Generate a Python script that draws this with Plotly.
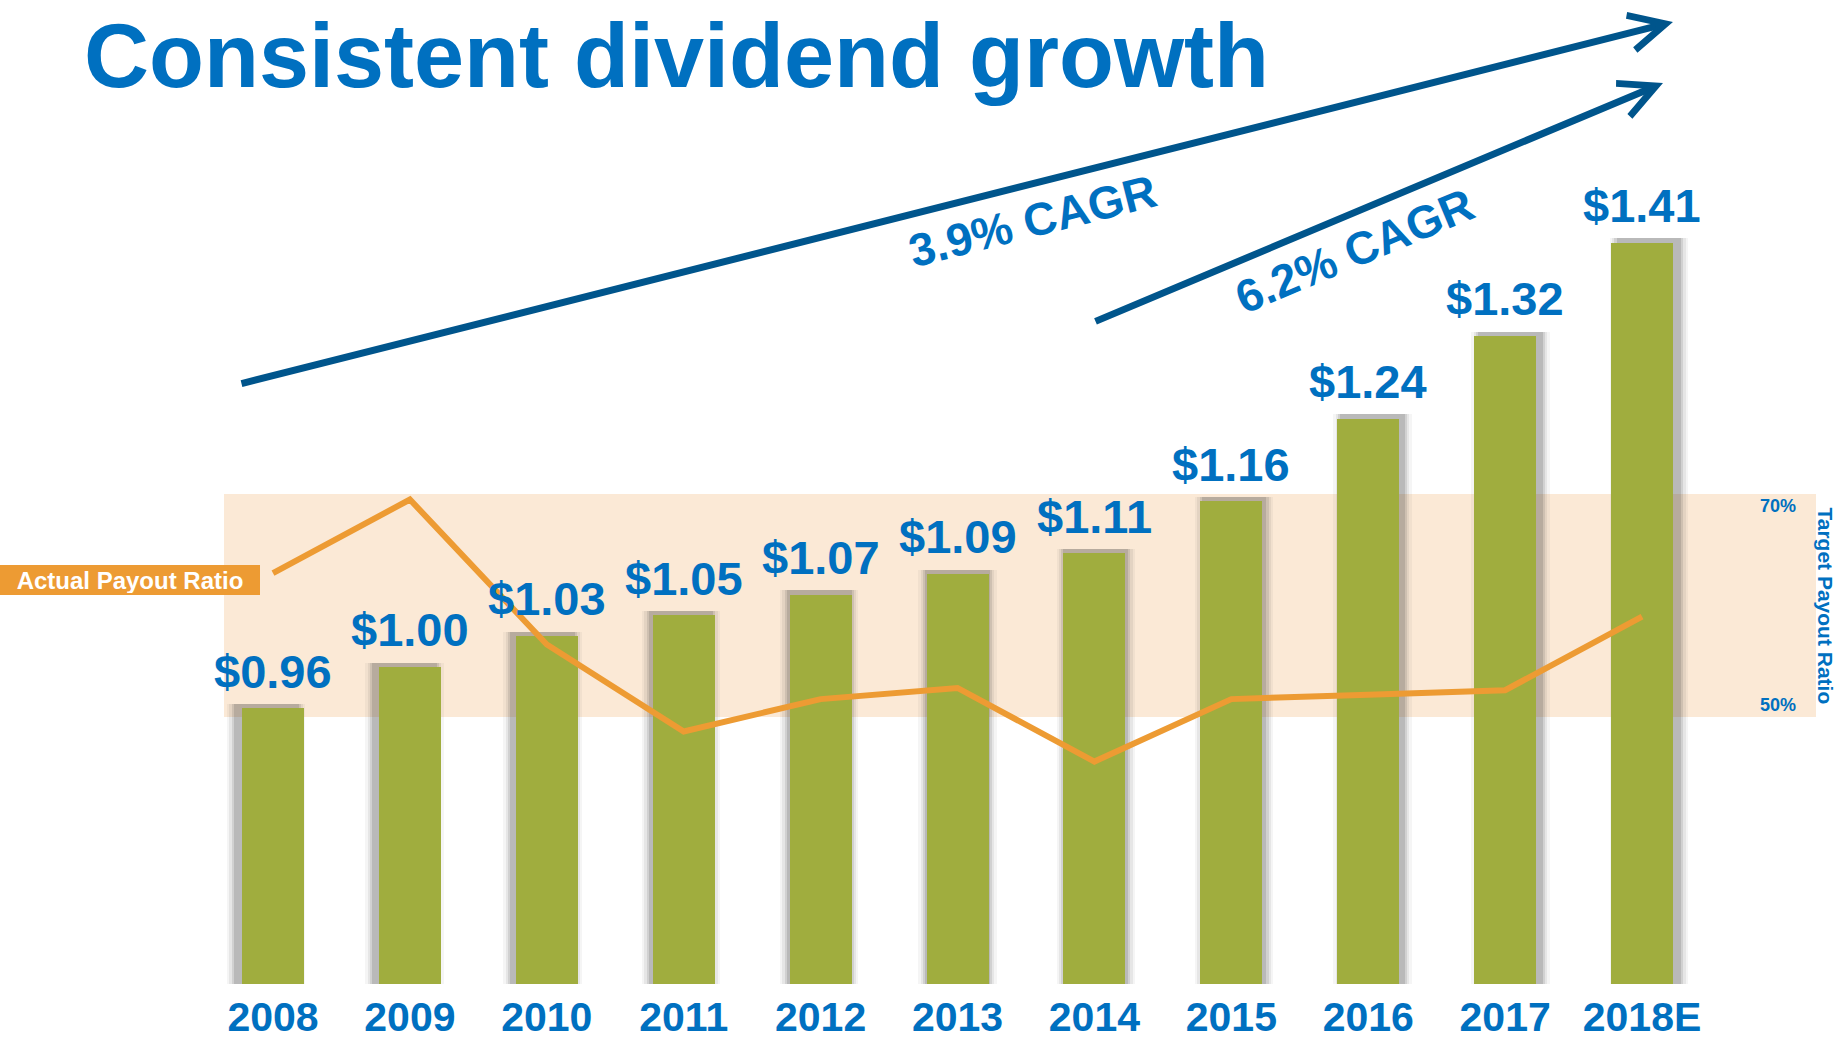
import plotly.graph_objects as go

# ---------------- data ----------------
years = ["2008", "2009", "2010", "2011", "2012", "2013", "2014", "2015", "2016", "2017", "2018E"]
dividends = [0.96, 1.00, 1.03, 1.05, 1.07, 1.09, 1.11, 1.16, 1.24, 1.32, 1.41]
payout_ratio = [62.9, 69.5, 56.5, 48.7, 51.6, 52.6, 46.0, 51.6, 52.0, 52.4, 59.0]
dividend_labels = ["$%.2f" % v for v in dividends]
target_low, target_high = 50, 70
target_labels = ["70%", "50%"]
cagr_labels = ["3.9% CAGR", "6.2% CAGR"]
title_text = "Consistent dividend growth"

# ---------------- layout helpers ----------------
W, H = 1837, 1040
MB = 56
PH = H - MB
FONT = "Liberation Sans, Arial, sans-serif"
BLUE = "#0070C0"
DARKBLUE = "#00558C"
GREEN = "#A0AD3E"
ORANGE = "#ED9B33"
BAND = "#FBE9D6"


def xp(px):
    return px / W


def yp(py):
    return 1 - py / PH


idx = list(range(len(years)))
BAR_W = 0.453

fig = go.Figure()

# soft shadows behind bars
for extra, op in [(0.12, 0.05), (0.085, 0.08), (0.05, 0.12), (0.02, 0.16)]:
    fig.add_trace(go.Bar(
        x=[i + (i - 5) * 0.01 for i in idx],
        y=[v + 0.004 for v in dividends],
        width=BAR_W + extra,
        marker=dict(color="rgba(60,60,60,%.2f)" % op, line=dict(width=0)),
        hoverinfo="skip", showlegend=False,
    ))

fig.add_trace(go.Bar(
    x=idx, y=dividends, width=BAR_W,
    marker=dict(color=GREEN, line=dict(width=0)),
    showlegend=False,
))

fig.add_trace(go.Scatter(
    x=idx, y=payout_ratio, yaxis="y2", mode="lines",
    line=dict(color=ORANGE, width=6),
    showlegend=False,
))

fig.add_shape(type="rect", xref="paper", yref="y2",
              x0=xp(224), x1=xp(1816), y0=target_low, y1=target_high,
              fillcolor=BAND, line=dict(width=0), layer="below")

ann = []
# dividend value labels above the bars
for i, v, lab in zip(idx, dividends, dividend_labels):
    ann.append(dict(text=lab, xref="x", yref="y", x=i, y=v, yshift=37,
                    xanchor="center", yanchor="middle", showarrow=False,
                    font=dict(family=FONT, size=47, color=BLUE, weight="bold")))

ann.append(dict(text=title_text, xref="paper", yref="paper", x=xp(82), y=yp(56),
                xanchor="left", yanchor="middle", showarrow=False,
                font=dict(family=FONT, size=90, color=BLUE, weight="bold")))
# CAGR arrows
ann.append(dict(text="", xref="paper", yref="paper", x=xp(1673), y=yp(22),
                ax=240 - 1673, ay=384 - 22, showarrow=True, arrowhead=5,
                arrowsize=1.0, arrowwidth=7, arrowcolor=DARKBLUE))
ann.append(dict(text="", xref="paper", yref="paper", x=xp(1663), y=yp(83),
                ax=1094 - 1663, ay=322 - 83, showarrow=True, arrowhead=5,
                arrowsize=1.0, arrowwidth=7, arrowcolor=DARKBLUE))
ann.append(dict(text=cagr_labels[0], xref="paper", yref="paper", x=xp(1032), y=yp(221),
                xanchor="center", yanchor="middle",
                textangle=-14.2, showarrow=False,
                font=dict(family=FONT, size=46, color=BLUE, weight="bold")))
ann.append(dict(text=cagr_labels[1], xref="paper", yref="paper", x=xp(1354), y=yp(251),
                xanchor="center", yanchor="middle",
                textangle=-22.7, showarrow=False,
                font=dict(family=FONT, size=46, color=BLUE, weight="bold")))
# payout label box
ann.append(dict(text="Actual Payout Ratio", xref="paper", yref="paper", x=0, y=yp(580),
                xanchor="left", yanchor="middle", showarrow=False,
                width=256, height=26, borderpad=2, borderwidth=0, bgcolor=ORANGE,
                align="center",
                font=dict(family=FONT, size=24, color="white", weight="bold")))
# target band labels
ann.append(dict(text=target_labels[0], xref="paper", yref="y2", x=xp(1778), y=target_high,
                xanchor="center", yanchor="top", showarrow=False,
                font=dict(family=FONT, size=18, color=BLUE, weight="bold")))
ann.append(dict(text=target_labels[1], xref="paper", yref="y2", x=xp(1778), y=target_low,
                xanchor="center", yanchor="bottom", showarrow=False,
                font=dict(family=FONT, size=18, color=BLUE, weight="bold")))
ann.append(dict(text="Target Payout Ratio", xref="paper", yref="y2", x=xp(1826),
                y=(target_low + target_high) / 2, textangle=90,
                xanchor="center", yanchor="middle", showarrow=False,
                font=dict(family=FONT, size=21, color=BLUE, weight="bold")))

fig.update_layout(
    template="none",
    width=W, height=H,
    margin=dict(l=0, r=0, t=0, b=MB, pad=0),
    paper_bgcolor="white", plot_bgcolor="white",
    barmode="overlay", bargap=0,
    showlegend=False,
    annotations=ann,
    xaxis=dict(range=[-1.994, 11.424], tickvals=idx, ticktext=years,
               showgrid=False, zeroline=False, showline=False, ticks="",
               automargin=False, ticklabelstandoff=5,
               tickfont=dict(family=FONT, size=41, color=BLUE, weight="bold")),
    yaxis=dict(range=[0.6937, 1.6444], visible=False, automargin=False),
    yaxis2=dict(range=[26.05, 114.3], overlaying="y", visible=False, automargin=False),
)

fig.write_html(
    "out.html",
    config={"displayModeBar": False},
    post_script="document.body.style.margin='0';document.body.style.overflow='hidden';",
)
